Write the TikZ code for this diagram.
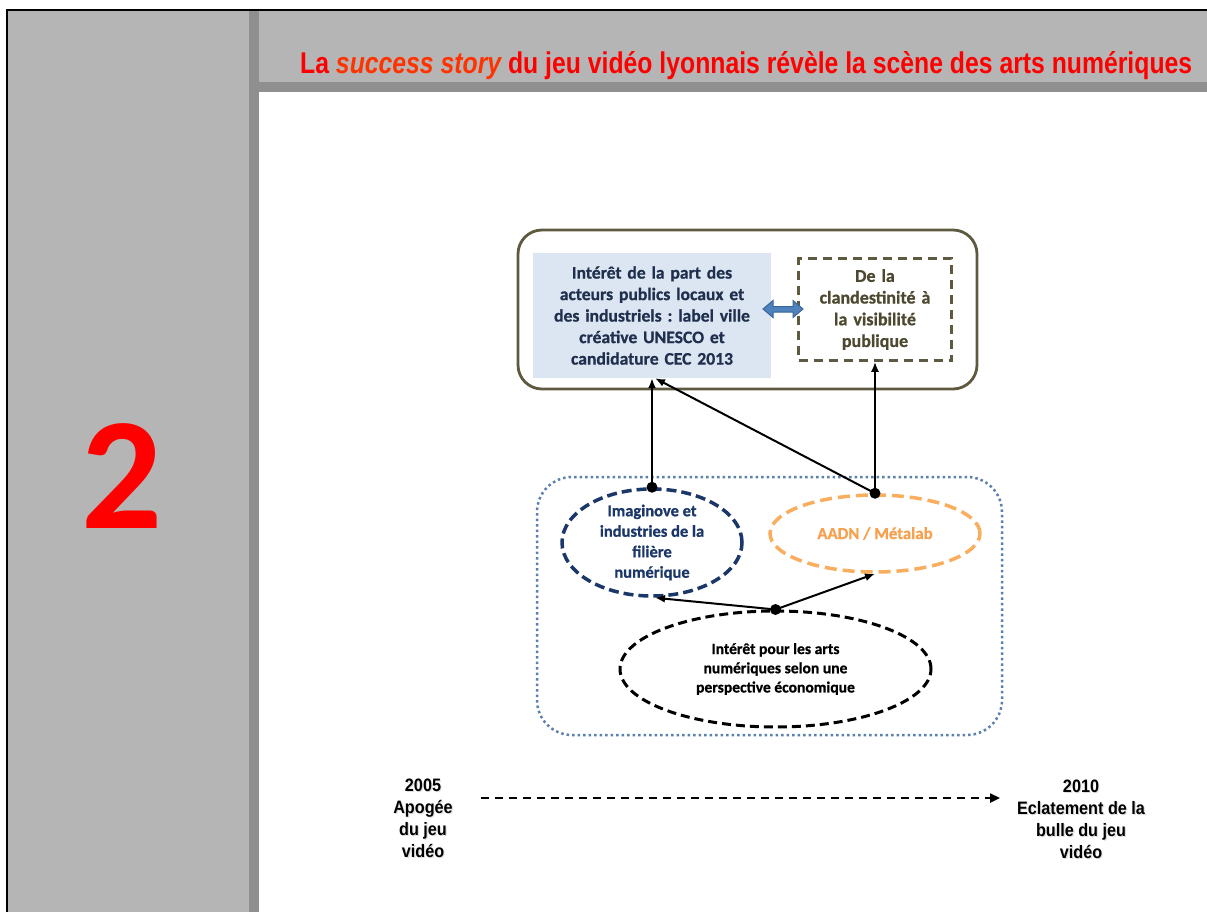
\documentclass[tikz,border=0pt]{standalone}
\usepackage{graphicx}
\usepackage{fontspec}
\setmainfont{Carlito}[BoldFeatures={FakeBold=0.8}]
\newfontfamily\bignumfont{Carlito}
\newfontfamily\arialfont{Liberation Sans}
\newfontfamily\arialnarrow[FakeStretch=0.9]{Liberation Sans}
\usetikzlibrary{arrows.meta,shapes.geometric}
\definecolor{panel}{HTML}{B5B5B5}
\definecolor{strip}{HTML}{8F8F8F}
\definecolor{olive}{HTML}{5E5A40}
\definecolor{olivetext}{HTML}{4D4930}
\definecolor{bluefill}{HTML}{DCE6F2}
\definecolor{navytext}{HTML}{1F2F4D}
\definecolor{arrowblue}{HTML}{4F81BD}
\definecolor{arrowedge}{HTML}{3A6797}
\definecolor{dotblue}{HTML}{5B80AD}
\definecolor{imagnavy}{HTML}{1B3769}
\definecolor{orangeline}{HTML}{F9AE5E}
\definecolor{orangetext}{HTML}{F7A04E}
\definecolor{titlered}{HTML}{FF0000}
\definecolor{storyred}{HTML}{FF3300}
\frenchspacing
\begin{document}
\begin{tikzpicture}[x=1pt,y=-1pt,
  conn/.style={line width=2pt,-{Latex[length=10pt,width=8pt]}},
  dotmark/.style={fill=black},
  timetext/.style={align=center,inner sep=0pt,font=\arialnarrow\bfseries\fontsize{18}{22}\selectfont},
  shadowtext/.style={timetext,text=black!45,opacity=0.28},
  ell/.style={ellipse,inner sep=0pt,align=center}]
\useasboundingbox (0,0) rectangle (1207,912);
\fill[white] (0,0) rectangle (1207,912);
% frame panels
\fill[panel] (8,11) rectangle (249,912);
\fill[strip] (249,11) rectangle (259,912);
\fill[panel] (259,11) rectangle (1207,82);
\fill[strip] (259,82) rectangle (1207,92);
\draw[line width=2pt] (7,912) -- (7,10) -- (1207,10);
% title
\node[anchor=base west,inner sep=0pt] (title) at (300,74)
  {\resizebox{892pt}{\height}{\arialfont\bfseries\fontsize{30}{36}\selectfont\color{titlered}La \textit{\color{storyred}success story} du jeu vidéo lyonnais révèle la scène des arts numériques}};
% big number
\node[anchor=base,inner sep=0pt,text=titlered,font=\bignumfont\bfseries\fontsize{160}{160}\selectfont] (num) at (122.5,528) {2};
% top box
\node[draw=olive,line width=2.8pt,rounded corners=24pt,minimum width=459pt,minimum height=159pt] (outer) at (747.5,309.5) {};
\node[fill=bluefill,minimum width=238pt,minimum height=125pt,inner sep=0pt,text width=236pt,align=center,text=navytext,font=\bfseries\fontsize{17.6}{21.5}\selectfont] (blue) at (652,315.5)
  {Intérêt de la part des\\acteurs publics locaux et\\des industriels : label ville\\créative UNESCO et\\candidature CEC 2013};
\node[draw=olive,line width=2.5pt,dash pattern=on 9pt off 6pt,minimum width=153pt,minimum height=102pt,inner sep=0pt,text width=150pt,align=center,text=olivetext,font=\bfseries\fontsize{18}{21.7}\selectfont] (vis) at (875,309.5)
  {De la\\clandestinité à\\la visibilité\\publique};
% double arrow between the two
\filldraw[fill=arrowblue,draw=arrowedge,line width=1pt]
  (763,309) -- (773,300.5) -- (773,306.5) -- (793,306.5) -- (793,300.5) -- (803,309)
  -- (793,317.5) -- (793,312) -- (773,312) -- (773,317.5) -- cycle;
% dotted group
\node[draw=dotblue,line width=2.5pt,dash pattern=on 2.5pt off 3pt,rounded corners=35pt,minimum width=465pt,minimum height=258pt] (group) at (769.5,606) {};
% ellipses
\node[ell,draw=imagnavy,line width=3.5pt,dash pattern=on 10pt off 5pt,minimum width=180pt,minimum height=95pt,text=imagnavy,font=\bfseries\fontsize{16.5}{20.5}\selectfont] (imag) at (652,542.5)
  {Imaginove et\\industries de la\\filière\\numérique};
\node[ell,draw=orangeline,line width=3.5pt,dash pattern=on 12pt off 6pt,minimum width=210pt,minimum height=77pt,text=orangetext,font=\bfseries\fontsize{16.8}{19}\selectfont] (aadn) at (875,533.5)
  {AADN / Métalab};
\node[ell,draw=black,line width=3pt,dash pattern=on 9pt off 5pt,minimum width=311pt,minimum height=116pt,font=\bfseries\fontsize{15.6}{19.2}\selectfont] (eco) at (775.5,669)
  {Intérêt pour les arts\\numériques selon une\\perspective économique};
% connectors
\draw[conn] (imag.north) -- (blue.south);
\draw[conn] (aadn.north) -- ([xshift=3pt]blue.south);
\draw[conn] (aadn.north) -- (vis.south);
\draw[conn] (eco.north) -- ([xshift=3pt]imag.south);
\draw[conn] (eco.north) -- (aadn.south);
\fill[dotmark] (imag.north) circle (5.5pt);
\fill[dotmark] (aadn.north) circle (5.5pt);
\fill[dotmark] (eco.north) circle (5.5pt);
% timeline
\node[shadowtext] at (424.2,819.4) {2005\\Apogée\\du jeu\\vidéo};
\node[timetext] (t1) at (423,818) {2005\\Apogée\\du jeu\\vidéo};
\node[shadowtext] at (1082.2,820.4) {2010\\Eclatement de la\\bulle du jeu\\vidéo};
\node[timetext] (t2) at (1081,819) {2010\\Eclatement de la\\bulle du jeu\\vidéo};
\coordinate (ta) at (481,798);
\coordinate (tb) at (1000,798);
\draw[line width=2.3pt,dash pattern=on 8pt off 6pt,-{Triangle[length=10pt,width=9pt]}] (ta) -- (tb);
\end{tikzpicture}
\end{document}
